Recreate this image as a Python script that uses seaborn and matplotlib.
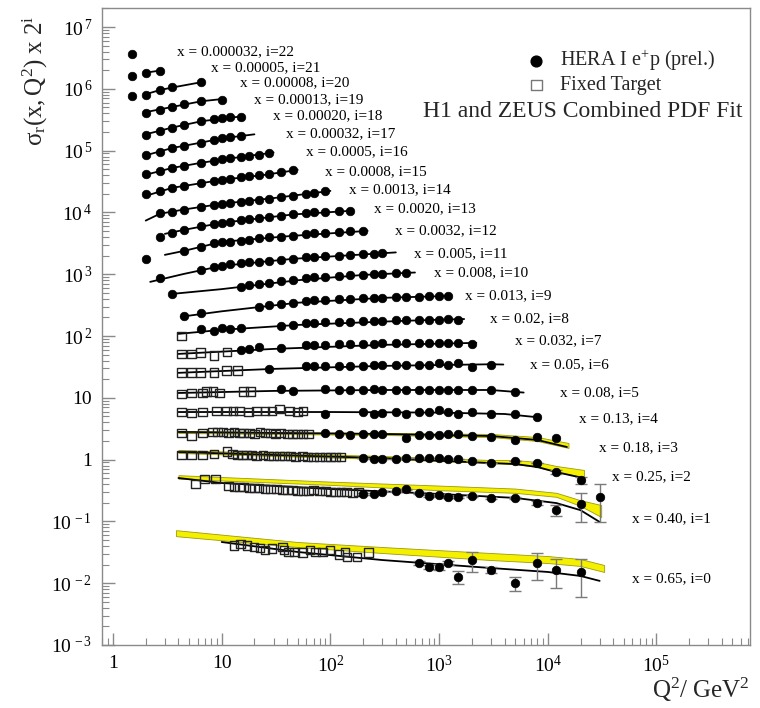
import numpy as np
import pandas as pd
import matplotlib
matplotlib.use("Agg")
import matplotlib.pyplot as plt
import seaborn as sns
from matplotlib.ticker import FixedLocator, FixedFormatter, LogLocator, NullFormatter

# ---------------- data (sigma_r, plotted as sigma_r x 2^i) ----------------
x_bins = ["0.65", "0.40", "0.25", "0.18", "0.13", "0.08", "0.05", "0.032", "0.02",
          "0.013", "0.008", "0.005", "0.0032", "0.0020", "0.0013", "0.0008", "0.0005",
          "0.00032", "0.00020", "0.00013", "0.00008", "0.00005", "0.000032"]

hera_q2 = [
    [650, 800, 1000, 1200, 1500, 2000, 3000, 5000, 8000, 12000, 20000],
    [200, 250, 300, 400, 500, 650, 800, 1000, 1200, 1500, 2000, 3000, 5000, 8000, 12000, 20000, 30000],
    [200, 250, 300, 400, 500, 650, 800, 1000, 1200, 1500, 2000, 3000, 5000, 8000, 12000, 20000],
    [90, 120, 150, 200, 250, 300, 500, 650, 800, 1000, 1200, 1500, 2000, 3000, 5000, 8000, 12000],
    [90, 200, 250, 300, 400, 500, 650, 800, 1000, 1200, 1500, 2000, 3000, 5000, 8000],
    [35, 45, 90, 120, 150, 200, 250, 300, 400, 500, 650, 800, 1000, 1200, 1500, 2000, 3000, 5000],
    [27, 60, 70, 90, 120, 150, 200, 250, 300, 400, 500, 650, 800, 1000, 1200, 1500, 2000, 3000],
    [15, 18, 22, 35, 60, 70, 90, 120, 150, 200, 250, 300, 400, 500, 650, 800, 1000, 1200, 1500, 2000],
    [6.5, 8.5, 10, 12, 15, 35, 45, 60, 70, 90, 120, 150, 200, 250, 300, 400, 500, 650, 800, 1000, 1200, 1500],
    [4.5, 6.5, 22, 27, 35, 45, 60, 70, 90, 120, 150, 200, 250, 300, 400, 500, 650, 800, 1000, 1200],
    [3.5, 15, 18, 22, 27, 35, 45, 60, 70, 90, 120, 150, 200, 250, 300, 400, 500],
    [2.7, 6.5, 8.5, 10, 12, 15, 18, 22, 27, 35, 45, 60, 70, 90, 120, 150, 200, 250, 300],
    [2, 4.5, 6.5, 8.5, 10, 12, 15, 18, 22, 27, 35, 45, 60, 70, 90, 120, 150, 200],
    [2.7, 3.5, 4.5, 6.5, 8.5, 10, 12, 15, 18, 22, 27, 35, 45, 60, 70, 90, 120, 150],
    [2.7, 3.5, 4.5, 6.5, 8.5, 10, 12, 15, 18, 22, 27, 35, 45, 60, 70, 90],
    [2, 2.7, 3.5, 4.5, 6.5, 8.5, 10, 12, 15, 18, 22, 27, 35, 45],
    [2, 2.7, 3.5, 4.5, 6.5, 8.5, 10, 12, 15, 18, 22, 27],
    [2, 2.7, 3.5, 4.5, 6.5, 8.5, 10, 12, 15],
    [2, 2.7, 3.5, 4.5, 6.5, 8.5, 10, 12, 15],
    [2, 2.7, 3.5, 4.5, 6.5, 10],
    [1.5, 2, 2.7, 3.5, 6.5],
    [1.5, 2, 2.7],
    [1.5],
]
hera_sr = [
    [0.0212, 0.0183, 0.0183, 0.0212, 0.0126, 0.0237, 0.0164, 0.0101, 0.0212, 0.0164, 0.0152],
    [0.139, 0.139, 0.150, 0.155, 0.167, 0.144, 0.129, 0.134, 0.124, 0.124, 0.129, 0.120, 0.120, 0.099, 0.076, 0.096, 0.124],
    [0.265, 0.256, 0.256, 0.256, 0.265, 0.265, 0.265, 0.265, 0.256, 0.256, 0.237, 0.220, 0.237, 0.220, 0.157, 0.117],
    [0.337, 0.325, 0.313, 0.325, 0.325, 0.325, 0.280, 0.313, 0.313, 0.313, 0.325, 0.325, 0.301, 0.290, 0.260, 0.290, 0.280],
    [0.342, 0.368, 0.342, 0.355, 0.368, 0.342, 0.368, 0.368, 0.397, 0.368, 0.342, 0.368, 0.342, 0.342, 0.306],
    [0.434, 0.404, 0.434, 0.418, 0.418, 0.418, 0.434, 0.418, 0.418, 0.418, 0.418, 0.418, 0.418, 0.418, 0.418, 0.418, 0.418, 0.388],
    [0.459, 0.513, 0.513, 0.513, 0.513, 0.513, 0.513, 0.533, 0.533, 0.533, 0.533, 0.533, 0.533, 0.574, 0.533, 0.574, 0.494, 0.533],
    [0.466, 0.483, 0.521, 0.502, 0.561, 0.561, 0.561, 0.582, 0.582, 0.582, 0.582, 0.605, 0.605, 0.605, 0.605, 0.605, 0.605, 0.605, 0.605, 0.582],
    [0.509, 0.473, 0.529, 0.509, 0.529, 0.570, 0.592, 0.637, 0.637, 0.661, 0.661, 0.661, 0.687, 0.687, 0.687, 0.713, 0.713, 0.713, 0.713, 0.713, 0.740, 0.713],
    [0.414, 0.462, 0.578, 0.623, 0.647, 0.671, 0.723, 0.750, 0.750, 0.779, 0.779, 0.809, 0.809, 0.809, 0.839, 0.839, 0.839, 0.871, 0.871, 0.871],
    [0.469, 0.609, 0.657, 0.681, 0.707, 0.762, 0.791, 0.852, 0.884, 0.884, 0.918, 0.953, 0.953, 0.989, 0.989, 1.026, 1.026],
    [0.426, 0.574, 0.642, 0.666, 0.718, 0.745, 0.773, 0.773, 0.803, 0.833, 0.865, 0.932, 0.932, 0.967, 0.967, 1.004, 1.042, 1.042, 1.081],
    [0.43, 0.58, 0.68, 0.78, 0.81, 0.81, 0.85, 0.88, 0.95, 0.98, 0.98, 1.02, 1.10, 1.14, 1.14, 1.18, 1.23, 1.23],
    [0.49, 0.57, 0.64, 0.74, 0.80, 0.83, 0.86, 0.92, 0.96, 1.00, 1.03, 1.07, 1.16, 1.20, 1.24, 1.24, 1.28, 1.28],
    [0.60, 0.62, 0.67, 0.75, 0.81, 0.84, 0.87, 0.90, 0.94, 0.97, 1.01, 1.09, 1.13, 1.22, 1.26, 1.36],
    [0.61, 0.68, 0.76, 0.82, 0.92, 0.99, 1.03, 1.07, 1.15, 1.19, 1.24, 1.28, 1.38, 1.49],
    [0.64, 0.72, 0.81, 0.87, 0.97, 1.05, 1.10, 1.14, 1.20, 1.25, 1.30, 1.40],
    [0.65, 0.73, 0.85, 0.91, 1.02, 1.14, 1.23, 1.28, 1.33],
    [0.69, 0.80, 0.89, 1.00, 1.14, 1.24, 1.30, 1.33, 1.35],
    [0.78, 0.87, 0.97, 1.07, 1.22, 1.28],
    [0.74, 0.76, 0.92, 1.03, 1.24],
    [0.78, 0.87, 0.94],
    [0.88],
]
hera_err = {
    0: [0.0018, 0.0015, 0.0018, 0.0018, 0.0030, 0.0088, 0.0020, 0.0025, 0.010, 0.0079, 0.0092],
    1: [0.003, 0.003, 0.003, 0.003, 0.003, 0.003, 0.003, 0.003, 0.003, 0.003, 0.003, 0.003, 0.003, 0.006, 0.015, 0.048, 0.075],
    2: [0.003, 0.003, 0.003, 0.003, 0.003, 0.003, 0.003, 0.003, 0.003, 0.003, 0.003, 0.003, 0.003, 0.003, 0.012, 0.016],
}

ft_q2 = {
    0: [13, 14.8, 17.1, 19.8, 22.5, 25, 29, 36, 37.5, 41.5, 47, 55, 65, 73, 85, 99, 120, 136, 142, 176, 226],
    1: [5.7, 7, 8.7, 11.5, 13, 14.5, 16, 18, 20, 22, 25, 28, 32, 36, 40, 45, 50, 56, 63, 70, 80, 90, 100, 112, 125, 140, 160, 180],
    2: [4.3, 5.3, 6.7, 8.5, 11.2, 12.5, 14, 15.5, 17, 19, 21, 24, 27, 30, 34, 38, 43, 48, 55, 62, 70, 80, 90, 100, 112, 125],
    3: [4.3, 5.3, 6.7, 8.2, 9.2, 10.3, 11.5, 13, 14.5, 16, 18, 20, 22.5, 25, 28, 31, 35, 40, 45, 50, 56, 63],
    4: [4.3, 5.3, 6.7, 9, 11, 12.7, 14.7, 17.6, 21, 25, 29, 34, 42, 50, 56],
    5: [4.3, 5.3, 6.7, 7.3, 8.3, 9.6, 16, 18.5],
    6: [4.3, 5.3, 6.4, 8.5, 11, 14],
    7: [4.3, 5.3, 6.4, 8.5, 11.2],
    8: [4.3],
}
ft_sr = {
    0: [0.041, 0.043, 0.041, 0.0385, 0.037, 0.0345, 0.036, 0.0385, 0.0345, 0.032, 0.032, 0.031, 0.0345, 0.032, 0.032, 0.0345, 0.029, 0.032, 0.0265, 0.0265, 0.031],
    1: [0.201, 0.243, 0.243, 0.187, 0.180, 0.180, 0.180, 0.174, 0.174, 0.174, 0.167, 0.167, 0.167, 0.161, 0.161, 0.161, 0.155, 0.155, 0.155, 0.161, 0.155, 0.155, 0.150, 0.150, 0.150, 0.150, 0.144, 0.150],
    2: [0.297, 0.297, 0.297, 0.308, 0.340, 0.308, 0.297, 0.297, 0.297, 0.297, 0.286, 0.297, 0.286, 0.286, 0.286, 0.286, 0.286, 0.276, 0.286, 0.276, 0.276, 0.276, 0.276, 0.276, 0.276, 0.276],
    3: [0.337, 0.301, 0.337, 0.350, 0.350, 0.350, 0.337, 0.350, 0.337, 0.337, 0.337, 0.325, 0.350, 0.337, 0.337, 0.325, 0.337, 0.325, 0.325, 0.325, 0.325, 0.325],
    4: [0.368, 0.355, 0.368, 0.382, 0.382, 0.382, 0.382, 0.368, 0.382, 0.382, 0.382, 0.412, 0.382, 0.368, 0.382],
    5: [0.36, 0.375, 0.375, 0.40, 0.39, 0.375, 0.40, 0.40],
    6: [0.396, 0.396, 0.396, 0.396, 0.426, 0.426],
    7: [0.401, 0.401, 0.417, 0.373, 0.432],
    8: [0.392],
}

fit_q2 = [
    [10, 50, 300, 3000, 10000, 20000, 30000],
    [4, 10, 100, 1000, 5000, 12000, 20000, 30000],
    [4, 30, 300, 3000, 5000, 8000, 12000, 21000],
    [4, 30, 300, 3000, 8000, 15000],
    [4, 100, 1000, 4000, 8500],
    [4, 30, 300, 3000, 6000],
    [4, 30, 300, 3000, 3900],
    [4, 30, 300, 2200],
    [4, 10, 50, 500, 1700],
    [4.2, 10, 50, 300, 1300],
    [3.5, 10, 50, 200, 600],
    [2.2, 4.5, 10, 45, 400],
    [3, 4.5, 10, 45, 220],
    [3, 4.5, 10, 45, 160],
    [2, 2.7, 4.5, 10, 30, 100],
    [2, 3.5, 10, 25, 50],
    [2, 3.5, 6.5, 12, 30],
    [2, 3.5, 6.5, 10, 20],
    [2, 3.5, 6.5, 15],
    [2, 3.5, 6.5, 10],
    [2, 2.7, 3.5, 6.5],
    [2, 2.7],
    [],
]
fit_sr = [
    [0.0464, 0.0320, 0.0237, 0.0176, 0.0152, 0.0131, 0.0109],
    [0.252, 0.209, 0.167, 0.139, 0.120, 0.099, 0.076, 0.049],
    [0.332, 0.297, 0.265, 0.220, 0.212, 0.190, 0.157, 0.126],
    [0.350, 0.337, 0.325, 0.301, 0.260, 0.200],
    [0.368, 0.368, 0.360, 0.342, 0.300],
    [0.374, 0.404, 0.418, 0.418, 0.380],
    [0.396, 0.459, 0.513, 0.545, 0.540],
    [0.401, 0.483, 0.561, 0.605],
    [0.423, 0.491, 0.590, 0.690, 0.735],
    [0.40, 0.49, 0.675, 0.809, 0.871],
    [0.469, 0.56, 0.78, 0.95, 1.04],
    [0.367, 0.494, 0.666, 0.865, 1.10],
    [0.502, 0.582, 0.815, 1.02, 1.227],
    [0.549, 0.637, 0.827, 1.13, 1.30],
    [0.45, 0.58, 0.68, 0.84, 1.04, 1.36],
    [0.565, 0.762, 1.026, 1.237, 1.49],
    [0.62, 0.80, 0.97, 1.14, 1.42],
    [0.64, 0.84, 1.03, 1.20, 1.40],
    [0.70, 0.90, 1.14, 1.36],
    [0.80, 0.97, 1.20, 1.30],
    [0.78, 0.91, 1.00, 1.22],
    [0.87, 0.94],
    [],
]

band_q2 = {
    0: [3.8, 50, 300, 3000, 10000, 20000, 33000],
    1: [4, 100, 1000, 5000, 12000, 20000, 31000],
    2: [4, 30, 300, 3000, 5000, 8000, 12000, 21500],
    3: [4, 30, 300, 3000, 8000, 15500],
}
band_lo = {
    0: [0.0577, 0.0385, 0.0308, 0.0237, 0.0212, 0.0190, 0.0152],
    1: [0.245, 0.195, 0.16, 0.145, 0.125, 0.089, 0.059],
    2: [0.320, 0.286, 0.256, 0.220, 0.212, 0.190, 0.157, 0.131],
    3: [0.337, 0.325, 0.313, 0.290, 0.250, 0.193],
}
band_hi = {
    0: [0.0721, 0.0464, 0.0385, 0.0308, 0.0275, 0.0246, 0.0197],
    1: [0.28, 0.22, 0.19, 0.17, 0.145, 0.11, 0.092],
    2: [0.357, 0.320, 0.286, 0.246, 0.246, 0.229, 0.197, 0.170],
    3: [0.363, 0.350, 0.337, 0.325, 0.290, 0.232],
}

# label anchors (axes fraction) -- layout only
label_pos = [(0.818, 0.104), (0.818, 0.199), (0.787, 0.265), (0.767, 0.309), (0.736, 0.355),
             (0.707, 0.396), (0.660, 0.440), (0.637, 0.477), (0.599, 0.512), (0.560, 0.548),
             (0.512, 0.584), (0.481, 0.615), (0.452, 0.650), (0.420, 0.685), (0.381, 0.714),
             (0.344, 0.743), (0.315, 0.774), (0.284, 0.803), (0.264, 0.831), (0.235, 0.856),
             (0.213, 0.882), (0.168, 0.906), (0.116, 0.932)]

# ---------------- long-form tables ----------------
hera_rows, ft_rows, fit_rows = [], [], []
for i in range(len(x_bins)):
    errs = hera_err.get(i, [0.0] * len(hera_q2[i]))
    for q, s, e in zip(hera_q2[i], hera_sr[i], errs):
        hera_rows.append({"i": i, "Q2": q, "val": s * 2 ** i, "err": e * 2 ** i})
    for q, s in zip(ft_q2.get(i, []), ft_sr.get(i, [])):
        ft_rows.append({"i": i, "Q2": q, "val": s * 2 ** i})
    for q, s in zip(fit_q2[i], fit_sr[i]):
        fit_rows.append({"i": i, "Q2": q, "val": s * 2 ** i})
hera = pd.DataFrame(hera_rows)
ft = pd.DataFrame(ft_rows)
fit = pd.DataFrame(fit_rows)

# ---------------- style ----------------
sns.set_theme(style="white")
plt.rcParams["font.family"] = ["Liberation Serif", "DejaVu Serif"]
plt.rcParams["mathtext.fontset"] = "custom"
plt.rcParams["mathtext.rm"] = "Liberation Serif"
plt.rcParams["mathtext.it"] = "Liberation Serif:italic"

fig = plt.figure(figsize=(7.6, 7.08), dpi=100)
ax = fig.add_axes([102 / 760, 1 - 645 / 708, 648 / 760, 637 / 708])
ax.set_xscale("log")
ax.set_yscale("log")
ax.set_xlim(0.792, 7.25e5)
ax.set_ylim(1e-3, 2.03e7)

# yellow bands
for i in band_q2:
    f = 2 ** i
    ax.fill_between(band_q2[i], np.array(band_lo[i]) * f, np.array(band_hi[i]) * f,
                    facecolor="#f4f000", edgecolor="#9c9a10", linewidth=0.6, zorder=1)

# fit curves
sns.lineplot(data=fit, x="Q2", y="val", units="i", estimator=None, sort=True,
             color="black", linewidth=1.3, ax=ax, legend=False, zorder=2)

# error bars
eb = hera[hera["err"] > 0]
ax.errorbar(eb["Q2"], eb["val"], yerr=eb["err"], fmt="none", ecolor="#7a7a7a",
            elinewidth=1.0, capsize=4, capthick=1.0, zorder=3)

# fixed-target squares
sns.scatterplot(data=ft, x="Q2", y="val", marker="s", s=40, color="none",
                edgecolor="#222222", linewidth=1.0, ax=ax, legend=False, zorder=4)
sq = ax.collections[-1]
sq.set_facecolor("none")
sq.set_edgecolor("#222222")

# HERA dots
sns.scatterplot(data=hera, x="Q2", y="val", marker="o", s=38, color="black",
                edgecolor="black", linewidth=0.5, ax=ax, legend=False, zorder=5)

# series labels
for i, (fx, fy) in enumerate(label_pos):
    ax.text(fx, fy, f"x = {x_bins[i]}, i={i}", transform=ax.transAxes,
            fontsize=11, ha="left", va="center", color="black")

# legend / title
ax.scatter([0.670], [0.917], transform=ax.transAxes, marker="o", s=60, color="black", zorder=6)
ax.scatter([0.670], [0.879], transform=ax.transAxes, marker="s", s=60, facecolor="none",
           edgecolor="#777777", linewidth=1.0, zorder=6)
ax.text(0.707, 0.917, r"HERA I e$^{+}$p (prel.)", transform=ax.transAxes,
        fontsize=14.5, ha="left", va="center")
ax.text(0.707, 0.879, "Fixed Target", transform=ax.transAxes,
        fontsize=14.5, ha="left", va="center")
ax.text(0.495, 0.837, "H1 and ZEUS Combined PDF Fit", transform=ax.transAxes,
        fontsize=17, ha="left", va="center")

# axes styling
grey = "#8a8a8a"
for sp in ax.spines.values():
    sp.set_color(grey)
    sp.set_linewidth(1.0)

xt = [1, 10, 100, 1e3, 1e4, 1e5]
xl = ["1", "10", r"$\mathregular{10^{2}}$", r"$\mathregular{10^{3}}$",
      r"$\mathregular{10^{4}}$", r"$\mathregular{10^{5}}$"]
ax.xaxis.set_major_locator(FixedLocator(xt))
ax.xaxis.set_major_formatter(FixedFormatter(xl))
ax.xaxis.set_minor_locator(LogLocator(base=10, subs=np.arange(2, 10), numticks=100))
ax.xaxis.set_minor_formatter(NullFormatter())

yt = [1e-3, 1e-2, 1e-1, 1, 10, 1e2, 1e3, 1e4, 1e5, 1e6, 1e7]
yl = [r"$\mathregular{10^{\,-3}}$", r"$\mathregular{10^{\,-2}}$", r"$\mathregular{10^{\,-1}}$",
      "1", "10", r"$\mathregular{10^{\,2}}$", r"$\mathregular{10^{\,3}}$",
      r"$\mathregular{10^{\,4}}$", r"$\mathregular{10^{\,5}}$", r"$\mathregular{10^{\,6}}$",
      r"$\mathregular{10^{\,7}}$"]
ax.yaxis.set_major_locator(FixedLocator(yt))
ax.yaxis.set_major_formatter(FixedFormatter(yl))
ax.yaxis.set_minor_locator(LogLocator(base=10, subs=np.arange(2, 10), numticks=100))
ax.yaxis.set_minor_formatter(NullFormatter())

ax.tick_params(axis="both", which="both", bottom=True, left=True, top=False, right=False)
ax.tick_params(axis="both", which="major", direction="in", length=9, width=1.0,
               color=grey, labelsize=14, labelcolor="black", pad=7)
ax.tick_params(axis="both", which="minor", direction="in", length=5, width=0.8, color=grey)
ax.set_xlabel("")
ax.set_ylabel("")

fig.text(35 / 760, 1 - 15 / 708, r"$\mathregular{\sigma_r(x,Q^2)\ x\ 2^i}$", rotation=90,
         ha="center", va="top", fontsize=18)
fig.text(750 / 760, 1 - 690 / 708, r"$\mathregular{Q^2/\ GeV^2}$", ha="right", va="center",
         fontsize=18)

fig.savefig("out.png", dpi=100)
